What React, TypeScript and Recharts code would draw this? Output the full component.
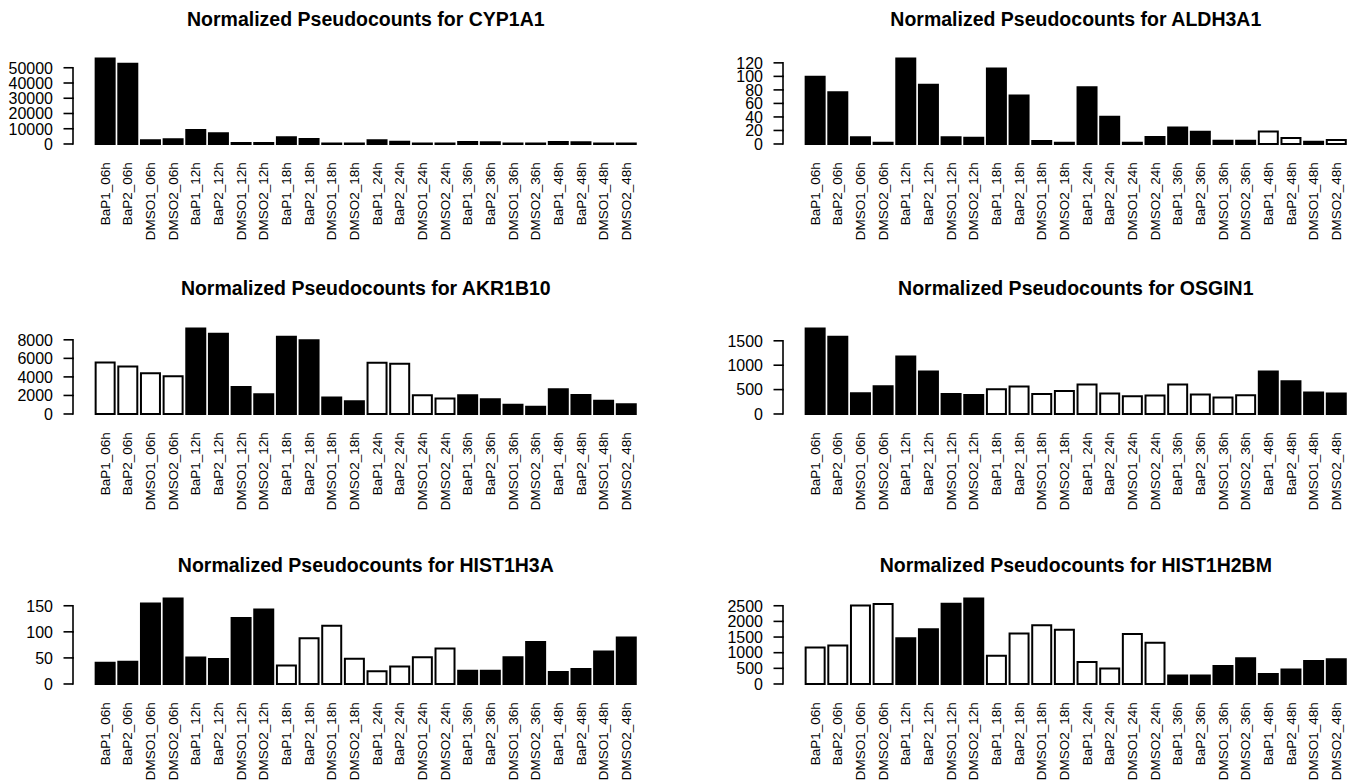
import { Bar, BarChart, Cell, XAxis, YAxis } from 'recharts'

const samples = [
  'BaP1_06h', 'BaP2_06h', 'DMSO1_06h', 'DMSO2_06h',
  'BaP1_12h', 'BaP2_12h', 'DMSO1_12h', 'DMSO2_12h',
  'BaP1_18h', 'BaP2_18h', 'DMSO1_18h', 'DMSO2_18h',
  'BaP1_24h', 'BaP2_24h', 'DMSO1_24h', 'DMSO2_24h',
  'BaP1_36h', 'BaP2_36h', 'DMSO1_36h', 'DMSO2_36h',
  'BaP1_48h', 'BaP2_48h', 'DMSO1_48h', 'DMSO2_48h'
]

// normalized pseudocounts, one per sample
const cyp1a1 = [56100, 52600, 2400, 3070, 9200, 7000, 650, 650, 4400, 3300, 400, 400, 2400, 1500, 400, 400, 1300, 1100, 400, 400, 1300, 1100, 400, 400]
const aldh3a1 = [99.5, 76.5, 9.8, 2, 126.5, 87.7, 9.8, 9.3, 111.8, 71.6, 4.4, 2, 83.8, 40.2, 2, 10.3, 24.5, 18.1, 4.9, 4.9, 18.6, 8.8, 3.4, 5.9]
const akr1b10 = [5550, 5117, 4396, 4072, 9225, 8649, 2919, 2126, 8324, 7964, 1766, 1369, 5514, 5405, 2018, 1658, 2018, 1586, 1009, 793, 2667, 2054, 1441, 1045]
const osgin1 = [1753, 1582, 425, 568, 1178, 870, 411, 390, 507, 562, 411, 473, 603, 418, 363, 377, 603, 397, 336, 384, 870, 671, 438, 418]
const hist1h3a = [40.7, 42.6, 154.5, 164, 50.9, 47.7, 126.5, 143, 35.6, 87.7, 111.9, 48.3, 24.2, 33.7, 51.5, 68, 25.4, 25.4, 51.5, 80.7, 22.9, 28.6, 62.3, 89]
const hist1h2bm = [1165, 1229, 2511, 2553, 1462, 1748, 2564, 2733, 900, 1610, 1875, 1737, 699, 498, 1600, 1314, 275, 275, 572, 826, 318, 466, 731, 794]

// 1 = significant (filled), 0 = not
const cyp1a1Sig = [1, 1, 1, 1, 1, 1, 1, 1, 1, 1, 1, 1, 1, 1, 1, 1, 1, 1, 1, 1, 1, 1, 1, 1]
const aldh3a1Sig = [1, 1, 1, 1, 1, 1, 1, 1, 1, 1, 1, 1, 1, 1, 1, 1, 1, 1, 1, 1, 0, 0, 1, 0]
const akr1b10Sig = [0, 0, 0, 0, 1, 1, 1, 1, 1, 1, 1, 1, 0, 0, 0, 0, 1, 1, 1, 1, 1, 1, 1, 1]
const osgin1Sig = [1, 1, 1, 1, 1, 1, 1, 1, 0, 0, 0, 0, 0, 0, 0, 0, 0, 0, 0, 0, 1, 1, 1, 1]
const hist1h3aSig = [1, 1, 1, 1, 1, 1, 1, 1, 0, 0, 0, 0, 0, 0, 0, 0, 1, 1, 1, 1, 1, 1, 1, 1]
const hist1h2bmSig = [0, 0, 0, 0, 1, 1, 1, 1, 0, 0, 0, 0, 0, 0, 0, 0, 1, 1, 1, 1, 1, 1, 1, 1]

const cyp1a1Ticks = [0, 10000, 20000, 30000, 40000, 50000]
const aldh3a1Ticks = [0, 20, 40, 60, 80, 100, 120]
const akr1b10Ticks = [0, 2000, 4000, 6000, 8000]
const osgin1Ticks = [0, 500, 1000, 1500]
const hist1h3aTicks = [0, 50, 100, 150]
const hist1h2bmTicks = [0, 500, 1000, 1500, 2000, 2500]

const FONT = '"Liberation Sans", Arial, Helvetica, sans-serif'
const Y_AXIS_W = 72
const PLOT_W = 585
const PLOT_H = 93.3
const TOP_M = 10
const X_AXIS_H = 110
const PAD = 20.6

function SampleTick(props: any) {
  const { x, y, payload } = props
  return (
    <g transform={`translate(${x},${y + 14}) rotate(-90)`}>
      <text x={0} y={0} dy="0.36em" textAnchor="end" fontSize={13.5} fontFamily={FONT} fill="#000">
        {payload.value}
      </text>
    </g>
  )
}

function CountTick(props: any) {
  const { x, y, payload, stepPx, last } = props
  return (
    <g>
      <line x1={x - 9.5} x2={x} y1={y} y2={y} stroke="#000" strokeWidth={1.6} />
      {payload.value !== last && (
        <line x1={x} x2={x} y1={y + 0.8} y2={y - stepPx - 0.8} stroke="#000" strokeWidth={1.6} />
      )}
      <text x={x - 20} y={y} dy="0.36em" textAnchor="end" fontSize={16} fontFamily={FONT} fill="#000">
        {payload.value}
      </text>
    </g>
  )
}

type PanelProps = {
  title: string
  values: number[]
  sig: number[]
  ticks: number[]
  axisX: number
  baseline: number
  titleY: number
}

function Panel({ title, values, sig, ticks, axisX, baseline, titleY }: PanelProps) {
  const rows = samples.map((name, i) => ({ name, value: values[i], sig: sig[i] }))
  const max = Math.max(...values)
  const lo = -0.0504 * max
  const hi = 1.0404 * max
  const stepPx = ((ticks[1] - ticks[0]) * PLOT_H) / (hi - lo)
  const last = ticks[ticks.length - 1]
  const plotTop = baseline - (hi / (hi - lo)) * PLOT_H
  const titleX = axisX + PLOT_W / 2

  return (
    <>
      <div
        style={{
          position: 'absolute',
          left: titleX - 300,
          width: 600,
          top: titleY - 10,
          lineHeight: '20px',
          textAlign: 'center',
          fontFamily: FONT,
          fontWeight: 'bold',
          fontSize: 19.5
        }}
      >
        {title}
      </div>
      <div style={{ position: 'absolute', left: axisX - Y_AXIS_W, top: plotTop - TOP_M }}>
        <BarChart
          width={Y_AXIS_W + PLOT_W}
          height={TOP_M + PLOT_H + X_AXIS_H}
          data={rows}
          margin={{ top: TOP_M, right: 0, bottom: 0, left: 0 }}
          barCategoryGap="9%"
        >
          <XAxis
            dataKey="name"
            interval={0}
            padding={{ left: PAD, right: PAD }}
            axisLine={false}
            tickLine={false}
            tickSize={0}
            tickMargin={0}
            height={X_AXIS_H}
            tick={(p: any) => <SampleTick {...p} />}
          />
          <YAxis
            type="number"
            domain={[lo, hi]}
            allowDataOverflow
            ticks={ticks}
            interval={0}
            width={Y_AXIS_W}
            axisLine={false}
            tickLine={false}
            tickSize={0}
            tickMargin={0}
            tick={(p: any) => <CountTick {...p} stepPx={stepPx} last={last} />}
          />
          <Bar dataKey="value" isAnimationActive={false} stroke="#000" strokeWidth={2}>
            {rows.map((r, i) => (
              <Cell key={`${r.name}-${i}`} fill={r.sig ? '#000' : '#fff'} stroke="#000" strokeWidth={2} />
            ))}
          </Bar>
        </BarChart>
      </div>
    </>
  )
}

export default function App() {
  return (
    <div
      style={{
        position: 'absolute',
        left: 0,
        top: 0,
        width: 1353,
        height: 782,
        overflow: 'hidden',
        background: '#fff'
      }}
    >
      <Panel title="Normalized Pseudocounts for CYP1A1" values={cyp1a1} sig={cyp1a1Sig} ticks={cyp1a1Ticks} axisX={73.3} baseline={144.3} titleY={18.5} />
      <Panel title="Normalized Pseudocounts for ALDH3A1" values={aldh3a1} sig={aldh3a1Sig} ticks={aldh3a1Ticks} axisX={783.3} baseline={144.3} titleY={18.5} />
      <Panel title="Normalized Pseudocounts for AKR1B10" values={akr1b10} sig={akr1b10Sig} ticks={akr1b10Ticks} axisX={73.3} baseline={414} titleY={288} />
      <Panel title="Normalized Pseudocounts for OSGIN1" values={osgin1} sig={osgin1Sig} ticks={osgin1Ticks} axisX={783.3} baseline={414} titleY={288} />
      <Panel title="Normalized Pseudocounts for HIST1H3A" values={hist1h3a} sig={hist1h3aSig} ticks={hist1h3aTicks} axisX={73.3} baseline={684.3} titleY={565} />
      <Panel title="Normalized Pseudocounts for HIST1H2BM" values={hist1h2bm} sig={hist1h2bmSig} ticks={hist1h2bmTicks} axisX={783.3} baseline={684.3} titleY={565} />
    </div>
  )
}
